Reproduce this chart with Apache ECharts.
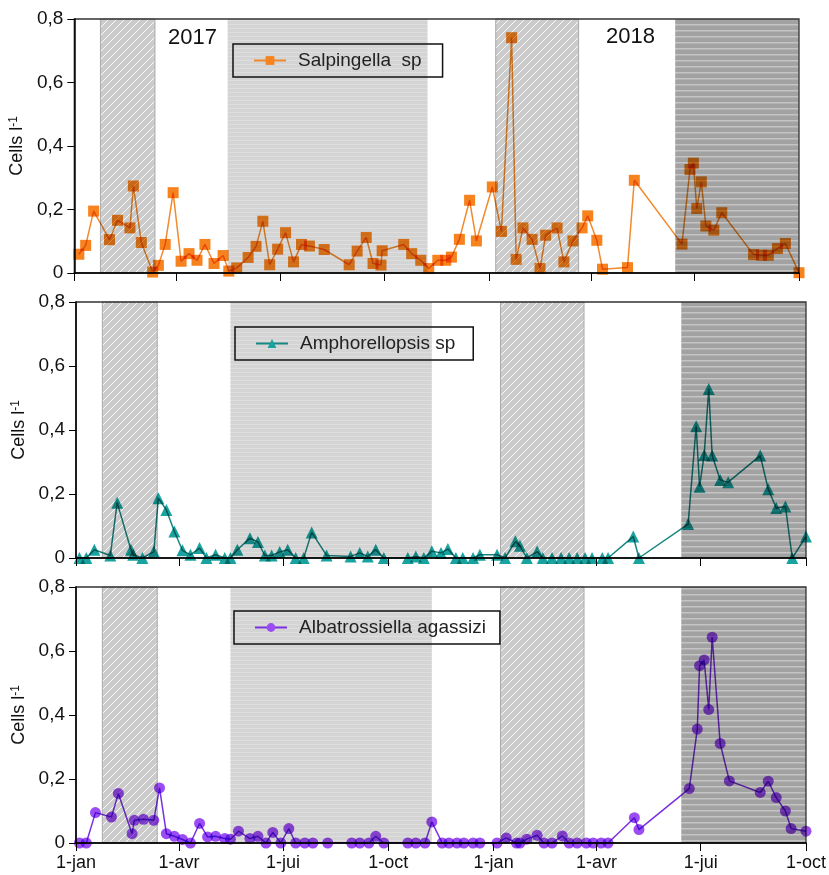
<!DOCTYPE html>
<html>
<head>
<meta charset="utf-8">
<script src="https://cdn.jsdelivr.net/npm/echarts@6/dist/echarts.min.js"></script>
<style>
  html, body { margin: 0; padding: 0; background: #fff; }
  #chart { width: 829px; height: 875px; }
</style>
</head>
<body>
<div id="chart"></div>
<script>
// --- data ---
const tickDates = ['2017-01-01', '2017-04-01', '2017-07-01', '2017-10-01', '2018-01-01', '2018-04-01', '2018-07-01', '2018-10-01'];
const tickLabels = ['1-jan', '1-avr', '1-jui', '1-oct', '1-jan', '1-avr', '1-jui', '1-oct'];

const hatchPeriods = [['2017-01-24', '2017-03-13'], ['2018-01-07', '2018-03-21']];
const stripePeriods = [['2017-05-16', '2017-11-08']];
const darkPeriods = [['2018-06-14', '2018-10-01']];

const salpDates = ['2017-01-05', '2017-01-11', '2017-01-18', '2017-02-01', '2017-02-08', '2017-02-19', '2017-02-22', '2017-03-01', '2017-03-11', '2017-03-16',
  '2017-03-22', '2017-03-29', '2017-04-05', '2017-04-12', '2017-04-19', '2017-04-26', '2017-05-04', '2017-05-12', '2017-05-17', '2017-05-24',
  '2017-06-03', '2017-06-10', '2017-06-16', '2017-06-22', '2017-06-29', '2017-07-06', '2017-07-13', '2017-07-20', '2017-07-27', '2017-08-09',
  '2017-08-31', '2017-09-07', '2017-09-15', '2017-09-21', '2017-09-28', '2017-09-29', '2017-10-18', '2017-10-25', '2017-11-02', '2017-11-09',
  '2017-11-17', '2017-11-24', '2017-11-29', '2017-12-06', '2017-12-15', '2017-12-21', '2018-01-04', '2018-01-12', '2018-01-21', '2018-01-25',
  '2018-01-31', '2018-02-08', '2018-02-15', '2018-02-20', '2018-03-02', '2018-03-08', '2018-03-16', '2018-03-24', '2018-03-29', '2018-04-06',
  '2018-04-11', '2018-05-03', '2018-05-09', '2018-06-20', '2018-06-27', '2018-06-30', '2018-07-03', '2018-07-07', '2018-07-11', '2018-07-18',
  '2018-07-25', '2018-08-22', '2018-08-29', '2018-09-04', '2018-09-12', '2018-09-19', '2018-10-01'];
const salpValues = [0.059, 0.087, 0.195, 0.105, 0.166, 0.142, 0.274, 0.096, 0.003, 0.024,
  0.09, 0.253, 0.037, 0.061, 0.04, 0.09, 0.03, 0.055, 0.006, 0.016,
  0.049, 0.084, 0.163, 0.026, 0.075, 0.127, 0.035, 0.09, 0.085, 0.074,
  0.026, 0.069, 0.112, 0.03, 0.025, 0.07, 0.09, 0.061, 0.04, 0.014,
  0.04, 0.04, 0.05, 0.106, 0.229, 0.101, 0.271, 0.131, 0.741, 0.043,
  0.142, 0.106, 0.014, 0.119, 0.142, 0.035, 0.101, 0.142, 0.18, 0.103,
  0.012, 0.017, 0.292, 0.091, 0.326, 0.346, 0.203, 0.287, 0.148, 0.135,
  0.19, 0.058, 0.056, 0.056, 0.077, 0.093, 0.001];

const amphDates = ['2017-01-04', '2017-01-10', '2017-01-17', '2017-01-31', '2017-02-06', '2017-02-18', '2017-02-20', '2017-02-28', '2017-03-10', '2017-03-14',
  '2017-03-21', '2017-03-28', '2017-04-04', '2017-04-11', '2017-04-19', '2017-04-25', '2017-05-03', '2017-05-11', '2017-05-16', '2017-05-22',
  '2017-06-02', '2017-06-09', '2017-06-15', '2017-06-21', '2017-06-28', '2017-07-05', '2017-07-12', '2017-07-19', '2017-07-26', '2017-08-08',
  '2017-08-29', '2017-09-06', '2017-09-13', '2017-09-20', '2017-09-27', '2017-10-18', '2017-10-25', '2017-11-01', '2017-11-08', '2017-11-16',
  '2017-11-22', '2017-11-29', '2017-12-05', '2017-12-14', '2017-12-20', '2018-01-04', '2018-01-11', '2018-01-20', '2018-01-24', '2018-01-30',
  '2018-02-08', '2018-02-13', '2018-02-21', '2018-03-01', '2018-03-08', '2018-03-15', '2018-03-22', '2018-03-28', '2018-04-06', '2018-04-11',
  '2018-05-03', '2018-05-08', '2018-06-20', '2018-06-27', '2018-06-30', '2018-07-04', '2018-07-08', '2018-07-11', '2018-07-18', '2018-07-25',
  '2018-08-22', '2018-08-29', '2018-09-05', '2018-09-13', '2018-09-19', '2018-10-01'];
const amphValues = [0, 0, 0.026, 0.008, 0.173, 0.026, 0.01, 0, 0.02, 0.187,
  0.15, 0.083, 0.024, 0.01, 0.031, 0, 0.01, 0, 0, 0.026,
  0.062, 0.05, 0.008, 0.008, 0.019, 0.026, 0, 0, 0.08, 0.008,
  0.005, 0.016, 0.005, 0.026, 0, 0, 0.005, 0, 0.021, 0.016,
  0.028, 0, 0, 0, 0.01, 0.01, 0, 0.052, 0.038, 0,
  0.02, 0, 0, 0, 0, 0, 0, 0, 0, 0,
  0.067, 0, 0.106, 0.412, 0.223, 0.322, 0.528, 0.32, 0.244, 0.237,
  0.32, 0.215, 0.156, 0.161, 0, 0.067];

const albaDates = ['2017-01-04', '2017-01-10', '2017-01-18', '2017-02-01', '2017-02-07', '2017-02-19', '2017-02-21', '2017-03-01', '2017-03-10', '2017-03-15',
  '2017-03-21', '2017-03-28', '2017-04-04', '2017-04-11', '2017-04-19', '2017-04-26', '2017-05-03', '2017-05-11', '2017-05-16', '2017-05-23',
  '2017-06-02', '2017-06-09', '2017-06-16', '2017-06-22', '2017-06-29', '2017-07-06', '2017-07-12', '2017-07-20', '2017-07-27', '2017-08-09',
  '2017-08-30', '2017-09-06', '2017-09-14', '2017-09-20', '2017-09-27', '2017-10-18', '2017-10-25', '2017-11-02', '2017-11-08', '2017-11-17',
  '2017-11-23', '2017-11-30', '2017-12-06', '2017-12-14', '2017-12-20', '2018-01-04', '2018-01-12', '2018-01-21', '2018-01-24', '2018-01-30',
  '2018-02-08', '2018-02-14', '2018-02-21', '2018-03-02', '2018-03-08', '2018-03-15', '2018-03-23', '2018-03-29', '2018-04-05', '2018-04-11',
  '2018-05-04', '2018-05-08', '2018-06-21', '2018-06-28', '2018-06-30', '2018-07-04', '2018-07-08', '2018-07-11', '2018-07-18', '2018-07-26',
  '2018-08-22', '2018-08-29', '2018-09-05', '2018-09-13', '2018-09-18', '2018-10-01'];
const albaValues = [0, 0, 0.095, 0.081, 0.155, 0.029, 0.071, 0.074, 0.071, 0.172,
  0.029, 0.021, 0.011, 0, 0.061, 0.019, 0.021, 0.014, 0.012, 0.037,
  0.014, 0.021, 0, 0.033, 0, 0.045, 0, 0, 0, 0,
  0, 0, 0, 0.021, 0, 0, 0, 0, 0.066, 0,
  0, 0, 0, 0, 0, 0, 0.016, 0, 0, 0.012,
  0.024, 0, 0, 0.022, 0, 0, 0, 0, 0, 0,
  0.079, 0.042, 0.17, 0.356, 0.554, 0.572, 0.417, 0.643, 0.311, 0.194,
  0.158, 0.193, 0.142, 0.1, 0.045, 0.037];

// --- helpers ---
const FONT = '"Liberation Sans", Arial, Helvetica, sans-serif';
const ts = s => echarts.time.parse(s).getTime();
const tickTs = tickDates.map(ts);

function makePattern(w, h, bg, draw) {
  const c = document.createElement('canvas');
  c.width = w; c.height = h;
  const ctx = c.getContext('2d');
  ctx.fillStyle = bg;
  ctx.fillRect(0, 0, w, h);
  draw(ctx, w, h);
  return { image: c, repeat: 'repeat' };
}

const hatchFill = makePattern(8, 8, '#cbcbcb', (ctx) => {
  ctx.strokeStyle = 'rgba(255,255,255,0.9)';
  ctx.lineWidth = 1;
  ctx.beginPath();
  ctx.moveTo(-1, 9); ctx.lineTo(9, -1);
  ctx.moveTo(-1, 1); ctx.lineTo(1, -1);
  ctx.moveTo(7, 9); ctx.lineTo(9, 7);
  ctx.stroke();
});
const stripeFill = makePattern(4, 4, '#d4d4d4', (ctx) => {
  ctx.fillStyle = '#dedede';
  ctx.fillRect(0, 0, 4, 1);
});
const darkFill = makePattern(6, 6, '#a2a2a2', (ctx) => {
  ctx.fillStyle = '#c4c4c4';
  ctx.fillRect(0, 0, 6, 1.5);
});

function areas() {
  const out = [];
  hatchPeriods.forEach(p => out.push([
    { xAxis: ts(p[0]), itemStyle: { color: hatchFill, borderColor: '#aaaaaa', borderWidth: 1 } },
    { xAxis: ts(p[1]) }
  ]));
  stripePeriods.forEach(p => out.push([
    { xAxis: ts(p[0]), itemStyle: { color: stripeFill } },
    { xAxis: ts(p[1]) }
  ]));
  darkPeriods.forEach(p => out.push([
    { xAxis: ts(p[0]), itemStyle: { color: darkFill } },
    { xAxis: ts(p[1]) }
  ]));
  return out;
}

const grids = [
  { left: 74, width: 725, top: 19, height: 254 },
  { left: 76, width: 730, top: 302, height: 256 },
  { left: 76, width: 730, top: 587, height: 256 }
];

const xAxes = grids.map((g, i) => ({
  type: 'value',
  gridIndex: i,
  min: ts('2017-01-01'),
  max: ts('2018-10-01'),
  z: 2,
  axisLine: { lineStyle: { color: '#000', width: 1.5 } },
  axisTick: { show: true, length: 8, customValues: tickTs, lineStyle: { color: '#000', width: 1 } },
  axisLabel: {
    show: i === 2,
    customValues: tickTs,
    formatter: v => tickLabels[tickTs.indexOf(v)] || '',
    fontSize: 18, color: '#111', fontFamily: FONT, margin: 11
  },
  splitLine: { show: false }
}));

const yAxes = grids.map((g, i) => ({
  type: 'value',
  gridIndex: i,
  min: 0, max: 0.8, interval: 0.2,
  z: 2,
  name: 'Cells l{sup|-1}',
  nameLocation: 'middle',
  nameGap: 44,
  nameTextStyle: {
    fontSize: 18, color: '#111', fontFamily: FONT,
    rich: { sup: { fontSize: 12, verticalAlign: 'top', color: '#111', fontFamily: FONT } }
  },
  axisLine: { show: true, lineStyle: { color: '#000', width: 1.5 } },
  axisTick: { show: true, length: 7, lineStyle: { color: '#000' } },
  axisLabel: {
    formatter: v => v === 0 ? '0' : v.toFixed(1).replace('.', ','),
    fontSize: 19, color: '#111', fontFamily: FONT, margin: 11
  },
  splitLine: { show: false }
}));

function lineSeries(i, name, dates, values, symbol, size, markColor, lineColor) {
  return {
    type: 'line',
    name: name,
    xAxisIndex: i,
    yAxisIndex: i,
    data: dates.map((d, k) => [ts(d), values[k]]),
    symbol: symbol,
    symbolSize: size,
    showAllSymbol: true,
    z: 3,
    blendMode: 'multiply',
    lineStyle: { color: lineColor, width: 1.5 },
    itemStyle: { color: markColor },
    markArea: { silent: true, data: areas() }
  };
}

function legendBox(name, left, top, padRight) {
  return {
    data: [name],
    left: left, top: top,
    selectedMode: false,
    borderColor: '#111', borderWidth: 1.5, borderRadius: 0,
    padding: [7, padRight, 7, 20],
    itemWidth: 32, itemHeight: 11,
    textStyle: { fontSize: 19, color: '#222', fontFamily: FONT, padding: [0, 0, 0, 7] }
  };
}

const chart = echarts.init(document.getElementById('chart'));
chart.setOption({
  animation: false,
  backgroundColor: '#fff',
  grid: grids.map(g => Object.assign({ show: true, z: 2, borderColor: '#333', borderWidth: 1.3, backgroundColor: 'transparent' }, g)),
  xAxis: xAxes,
  yAxis: yAxes,
  legend: [
    legendBox('Salpingella  sp', 233, 44, 21),
    legendBox('Amphorellopsis sp', 235, 327, 18),
    legendBox('Albatrossiella agassizi', 234, 611, 14)
  ],
  graphic: [
    { type: 'text', left: 168, top: 27, style: { text: '2017', font: '22px ' + FONT, fill: '#111' } },
    { type: 'text', left: 606, top: 26, style: { text: '2018', font: '22px ' + FONT, fill: '#111' } }
  ],
  series: [
    lineSeries(0, 'Salpingella  sp', salpDates, salpValues, 'rect', 11, '#f7831f', '#f08a2c'),
    lineSeries(1, 'Amphorellopsis sp', amphDates, amphValues, 'triangle', 12, '#19a3a0', '#178581'),
    lineSeries(2, 'Albatrossiella agassizi', albaDates, albaValues, 'circle', 11, '#9b4cf2', '#7a30df')
  ]
});
</script>
</body>
</html>
